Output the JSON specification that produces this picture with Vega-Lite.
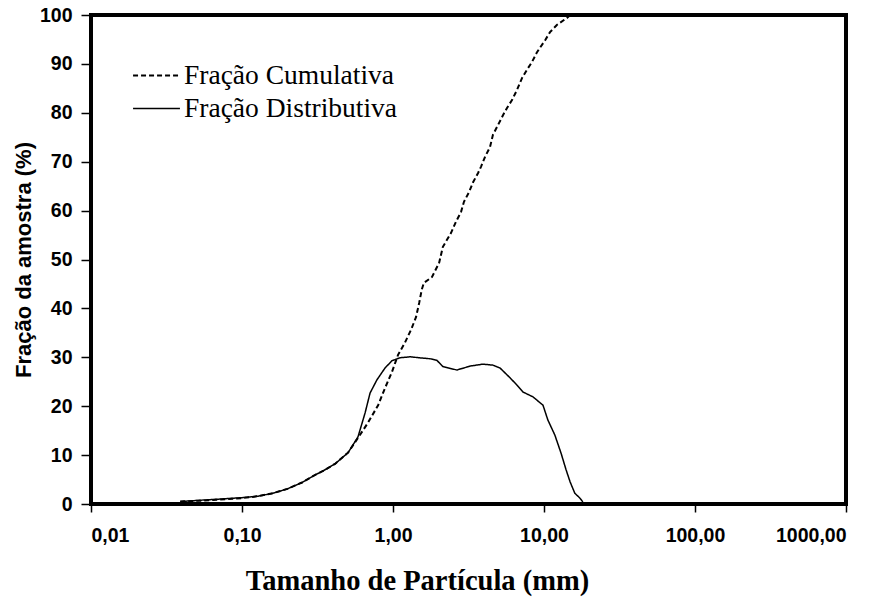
{
  "$schema": "https://vega.github.io/schema/vega-lite/v6.json",
  "width": 755,
  "height": 489,
  "autosize": "none",
  "padding": {"left": 91, "top": 15, "right": 40, "bottom": 98},
  "background": "white",
  "config": {
    "view": {"stroke": "black", "strokeWidth": 4},
    "axis": {"grid": false, "domain": false, "tickColor": "black", "tickWidth": 1.5,
      "labelFont": "Liberation Sans", "labelFontWeight": "bold", "labelFontSize": 19.5, "labelColor": "black",
      "titleColor": "black"}
  },
  "datasets": {
    "pts": [
      {"serie": "Fração Distributiva", "d": 0.039, "f": 0.5},
      {"serie": "Fração Distributiva", "d": 0.055, "f": 0.8},
      {"serie": "Fração Distributiva", "d": 0.071, "f": 1.0},
      {"serie": "Fração Distributiva", "d": 0.10, "f": 1.3},
      {"serie": "Fração Distributiva", "d": 0.128, "f": 1.6},
      {"serie": "Fração Distributiva", "d": 0.16, "f": 2.2},
      {"serie": "Fração Distributiva", "d": 0.20, "f": 3.1},
      {"serie": "Fração Distributiva", "d": 0.25, "f": 4.4},
      {"serie": "Fração Distributiva", "d": 0.295, "f": 5.7},
      {"serie": "Fração Distributiva", "d": 0.35, "f": 6.9},
      {"serie": "Fração Distributiva", "d": 0.413, "f": 8.2},
      {"serie": "Fração Distributiva", "d": 0.504, "f": 10.5},
      {"serie": "Fração Distributiva", "d": 0.586, "f": 13.7},
      {"serie": "Fração Distributiva", "d": 0.653, "f": 18.6},
      {"serie": "Fração Distributiva", "d": 0.705, "f": 22.7},
      {"serie": "Fração Distributiva", "d": 0.783, "f": 25.4},
      {"serie": "Fração Distributiva", "d": 0.885, "f": 27.8},
      {"serie": "Fração Distributiva", "d": 0.984, "f": 29.3},
      {"serie": "Fração Distributiva", "d": 1.11, "f": 29.9},
      {"serie": "Fração Distributiva", "d": 1.30, "f": 30.1},
      {"serie": "Fração Distributiva", "d": 1.50, "f": 29.9},
      {"serie": "Fração Distributiva", "d": 1.76, "f": 29.7},
      {"serie": "Fração Distributiva", "d": 1.95, "f": 29.4},
      {"serie": "Fração Distributiva", "d": 2.14, "f": 28.1},
      {"serie": "Fração Distributiva", "d": 2.65, "f": 27.4},
      {"serie": "Fração Distributiva", "d": 3.24, "f": 28.2},
      {"serie": "Fração Distributiva", "d": 3.94, "f": 28.6},
      {"serie": "Fração Distributiva", "d": 4.59, "f": 28.4},
      {"serie": "Fração Distributiva", "d": 5.12, "f": 27.8},
      {"serie": "Fração Distributiva", "d": 5.96, "f": 25.8},
      {"serie": "Fração Distributiva", "d": 6.63, "f": 24.3},
      {"serie": "Fração Distributiva", "d": 7.26, "f": 22.9},
      {"serie": "Fração Distributiva", "d": 8.46, "f": 21.9},
      {"serie": "Fração Distributiva", "d": 9.85, "f": 20.2},
      {"serie": "Fração Distributiva", "d": 10.6, "f": 17.2},
      {"serie": "Fração Distributiva", "d": 11.8, "f": 14.1},
      {"serie": "Fração Distributiva", "d": 12.97, "f": 10.4},
      {"serie": "Fração Distributiva", "d": 14.0, "f": 7.0},
      {"serie": "Fração Distributiva", "d": 14.9, "f": 4.5},
      {"serie": "Fração Distributiva", "d": 16.0, "f": 2.2},
      {"serie": "Fração Distributiva", "d": 17.3, "f": 1.2},
      {"serie": "Fração Distributiva", "d": 18.1, "f": 0.4},
      {"serie": "Fração Cumulativa", "d": 0.039, "f": 0.5},
      {"serie": "Fração Cumulativa", "d": 0.055, "f": 0.7},
      {"serie": "Fração Cumulativa", "d": 0.071, "f": 0.9},
      {"serie": "Fração Cumulativa", "d": 0.10, "f": 1.2},
      {"serie": "Fração Cumulativa", "d": 0.128, "f": 1.6},
      {"serie": "Fração Cumulativa", "d": 0.16, "f": 2.2},
      {"serie": "Fração Cumulativa", "d": 0.20, "f": 3.1},
      {"serie": "Fração Cumulativa", "d": 0.25, "f": 4.4},
      {"serie": "Fração Cumulativa", "d": 0.295, "f": 5.7},
      {"serie": "Fração Cumulativa", "d": 0.35, "f": 6.9},
      {"serie": "Fração Cumulativa", "d": 0.413, "f": 8.2},
      {"serie": "Fração Cumulativa", "d": 0.504, "f": 10.5},
      {"serie": "Fração Cumulativa", "d": 0.586, "f": 13.5},
      {"serie": "Fração Cumulativa", "d": 0.682, "f": 16.6},
      {"serie": "Fração Cumulativa", "d": 0.797, "f": 20.2},
      {"serie": "Fração Cumulativa", "d": 0.885, "f": 23.7},
      {"serie": "Fração Cumulativa", "d": 0.984, "f": 27.0},
      {"serie": "Fração Cumulativa", "d": 1.08, "f": 30.5},
      {"serie": "Fração Cumulativa", "d": 1.20, "f": 33.0},
      {"serie": "Fração Cumulativa", "d": 1.32, "f": 35.7},
      {"serie": "Fração Cumulativa", "d": 1.42, "f": 38.2},
      {"serie": "Fração Cumulativa", "d": 1.49, "f": 41.1},
      {"serie": "Fração Cumulativa", "d": 1.55, "f": 43.8},
      {"serie": "Fração Cumulativa", "d": 1.60, "f": 45.2},
      {"serie": "Fração Cumulativa", "d": 1.81, "f": 46.4},
      {"serie": "Fração Cumulativa", "d": 2.02, "f": 49.3},
      {"serie": "Fração Cumulativa", "d": 2.14, "f": 52.6},
      {"serie": "Fração Cumulativa", "d": 2.42, "f": 55.4},
      {"serie": "Fração Cumulativa", "d": 2.61, "f": 57.7},
      {"serie": "Fração Cumulativa", "d": 2.82, "f": 59.7},
      {"serie": "Fração Cumulativa", "d": 2.95, "f": 61.8},
      {"serie": "Fração Cumulativa", "d": 3.19, "f": 63.8},
      {"serie": "Fração Cumulativa", "d": 3.39, "f": 65.8},
      {"serie": "Fração Cumulativa", "d": 3.66, "f": 67.7},
      {"serie": "Fração Cumulativa", "d": 3.83, "f": 69.0},
      {"serie": "Fração Cumulativa", "d": 4.07, "f": 71.0},
      {"serie": "Fração Cumulativa", "d": 4.39, "f": 73.0},
      {"serie": "Fração Cumulativa", "d": 4.59, "f": 75.5},
      {"serie": "Fração Cumulativa", "d": 4.96, "f": 77.5},
      {"serie": "Fração Cumulativa", "d": 5.35, "f": 79.5},
      {"serie": "Fração Cumulativa", "d": 5.69, "f": 81.0},
      {"serie": "Fração Cumulativa", "d": 6.14, "f": 82.6},
      {"serie": "Fração Cumulativa", "d": 6.63, "f": 84.7},
      {"serie": "Fração Cumulativa", "d": 7.15, "f": 87.1},
      {"serie": "Fração Cumulativa", "d": 7.71, "f": 88.8},
      {"serie": "Fração Cumulativa", "d": 8.33, "f": 90.4},
      {"serie": "Fração Cumulativa", "d": 8.99, "f": 92.4},
      {"serie": "Fração Cumulativa", "d": 10.2, "f": 94.9},
      {"serie": "Fração Cumulativa", "d": 10.96, "f": 96.5},
      {"serie": "Fração Cumulativa", "d": 12.2, "f": 98.0},
      {"serie": "Fração Cumulativa", "d": 14.2, "f": 99.4},
      {"serie": "Fração Cumulativa", "d": 14.9, "f": 100}
    ]
  },
  "data": {"name": "pts"},
  "mark": {"type": "line", "color": "black", "clip": true},
  "encoding": {
    "x": {"field": "d", "type": "quantitative",
      "scale": {"type": "log", "domain": [0.01, 1000], "nice": false},
      "axis": {"values": [0.01, 0.1, 1, 10, 100, 1000],
        "labelExpr": "replace(format(datum.value, '.2f'), '.', ',')",
        "tickSize": 8, "labelPadding": 14,
        "title": "Tamanho de Partícula (mm)",
        "titleFont": "Liberation Serif", "titleFontSize": 28.5, "titleFontWeight": "bold",
        "titleX": 326, "titleY": 85, "titleBaseline": "alphabetic", "titleAlign": "center"}},
    "y": {"field": "f", "type": "quantitative",
      "scale": {"domain": [0, 100], "nice": false},
      "axis": {"values": [0, 10, 20, 30, 40, 50, 60, 70, 80, 90, 100],
        "tickSize": 10, "labelPadding": 9,
        "title": "Fração da amostra (%)",
        "titleFont": "Liberation Sans", "titleFontSize": 22, "titleFontWeight": "bold",
        "titleX": -68, "titleBaseline": "middle"}},
    "strokeDash": {"field": "serie", "type": "nominal",
      "scale": {"domain": ["Fração Cumulativa", "Fração Distributiva"], "range": [[5, 3], [1, 0]]},
      "legend": {"orient": "none", "legendX": 41, "legendY": 44, "title": null,
        "symbolType": "stroke", "symbolSize": 2200, "symbolStrokeWidth": 1.5, "symbolStrokeColor": "black",
        "labelFont": "Liberation Serif", "labelFontSize": 27.5, "labelColor": "black", "labelOffset": 3,
        "labelLimit": 600, "rowPadding": 0, "clipHeight": 33}},
    "strokeWidth": {"field": "serie", "type": "nominal",
      "scale": {"domain": ["Fração Cumulativa", "Fração Distributiva"], "range": [2, 1.5]},
      "legend": null}
  }
}
